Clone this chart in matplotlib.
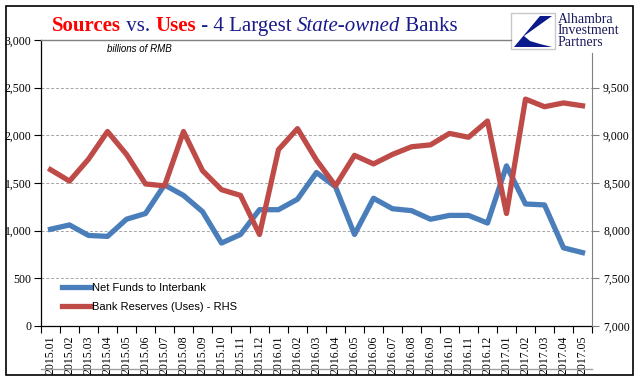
import numpy as np
import matplotlib.pyplot as plt
from matplotlib.patches import Rectangle, Polygon
from matplotlib.lines import Line2D
from matplotlib.ticker import FuncFormatter

months = ["2015.01", "2015.02", "2015.03", "2015.04", "2015.05", "2015.06", "2015.07",
          "2015.08", "2015.09", "2015.10", "2015.11", "2015.12", "2016.01", "2016.02",
          "2016.03", "2016.04", "2016.05", "2016.06", "2016.07", "2016.08", "2016.09",
          "2016.10", "2016.11", "2016.12", "2017.01", "2017.02", "2017.03", "2017.04",
          "2017.05"]
net_funds = [1015, 1060, 950, 940, 1120, 1180, 1480, 1370, 1200, 870, 960, 1220, 1220,
             1330, 1610, 1460, 960, 1340, 1230, 1210, 1120, 1160, 1160, 1080, 1680,
             1280, 1270, 820, 770]
reserves = [8640, 8520, 8750, 9040, 8800, 8490, 8470, 9040, 8630, 8430, 8370, 7960, 8850,
            9070, 8740, 8470, 8790, 8700, 8800, 8880, 8900, 9020, 8980, 9150, 8180,
            9380, 9300, 9340, 9310]

W, H = 641, 381
fig = plt.figure(figsize=(W / 100, H / 100), dpi=100)
fig.patch.set_facecolor("white")

def fx(px):
    return px / W

def fy(py):
    return 1 - py / H

serif = "Liberation Serif"
blue = "#4A7EBB"
red = "#BE4B48"
navy = "#1A1A8C"

ax = fig.add_axes([fx(41), fy(326), fx(592) - fx(41), fy(40) - fy(326)])
ax2 = ax.twinx()

x = np.arange(len(months))
ax.plot(x, net_funds, color=blue, lw=3.8, solid_joinstyle="round")
ax2.plot(x, reserves, color=red, lw=3.8, solid_joinstyle="round")

ax.set_xlim(-0.5, len(months) - 0.5)
ax.set_ylim(0, 3000)
ax2.set_ylim(7000, 10000)
ax.set_yticks(np.arange(0, 3001, 500))
ax2.set_yticks(np.arange(7000, 9501, 500))
fmt = FuncFormatter(lambda v, p: f"{int(v):,}")
ax.yaxis.set_major_formatter(fmt)
ax2.yaxis.set_major_formatter(fmt)

for v in range(500, 3000, 500):
    ax.axhline(v, color="#A6A6A6", lw=0.7, ls=(0, (3, 2)), zorder=0)

ax.set_xticks(x)
ax.set_xticklabels(months, rotation=90, fontfamily=serif, fontsize=8.5)
ax.set_xticks(np.arange(-0.5, len(months), 1), minor=True)
ax.tick_params(axis="x", which="major", length=0, pad=7)
ax.tick_params(axis="x", which="minor", length=5, direction="out", width=0.8)
ax.tick_params(axis="y", length=5, width=0.8, direction="out", labelsize=8.5, pad=2)
ax2.tick_params(axis="y", length=5, width=0.8, direction="out", labelsize=8.5, pad=3,
                color="#808080")
for lab in ax.get_yticklabels() + ax2.get_yticklabels():
    lab.set_fontfamily(serif)

ax.spines["top"].set_visible(False)
ax2.spines["top"].set_visible(False)
ax2.spines["left"].set_visible(False)
ax2.spines["bottom"].set_visible(False)
ax2.spines["right"].set_color("#808080")
ax2.spines["right"].set_bounds(7000, 9860)
ax.spines["right"].set_visible(False)
ax.spines["left"].set_linewidth(0.9)
ax.spines["bottom"].set_linewidth(0.9)

handles = [Line2D([], [], color=blue, lw=3.8), Line2D([], [], color=red, lw=3.8)]
ax.legend(handles, ["Net Funds to Interbank", "Bank Reserves (Uses) - RHS"],
          loc="lower left", bbox_to_anchor=(0.02, 0.015), frameon=False,
          prop={"family": "Liberation Sans", "size": 8}, handlelength=2.6,
          handletextpad=0.1, labelspacing=0.75)

ax.text(0.12, 0.985, "billions of RMB", transform=ax.transAxes, fontsize=7,
        style="italic", fontfamily="Liberation Sans", va="top", ha="left")

# frame, top rule and bottom rule
fig.add_artist(Rectangle((fx(6), fy(375)), fx(633) - fx(6), fy(6) - fy(375),
                         transform=fig.transFigure, fill=False, lw=1.2, ec="black"))
fig.add_artist(Line2D([fx(41), fx(511)], [fy(40), fy(40)], transform=fig.transFigure,
                      color="#808080", lw=1))
fig.add_artist(Line2D([fx(41), fx(592)], [fy(369), fy(369)], transform=fig.transFigure,
                      color="#A0A0A0", lw=1))

# title in pieces
pieces = [("Sources", "#FF0000", "bold", "normal"), (" vs. ", navy, "normal", "normal"),
          ("Uses", "#FF0000", "bold", "normal"), (" - 4 Largest ", navy, "normal", "normal"),
          ("State-owned", navy, "normal", "italic"), (" Banks", navy, "normal", "normal")]
renderer = fig.canvas.get_renderer()
cx = 52
for txt, col, wt, st in pieces:
    t = fig.text(fx(cx), fy(31), txt, color=col, fontweight=wt, style=st,
                 fontfamily=serif, fontsize=15, ha="left", va="baseline")
    bb = t.get_window_extent(renderer)
    cx += bb.width

# logo
fig.add_artist(Rectangle((fx(511), fy(49)), fx(555) - fx(511), fy(13) - fy(49),
                         transform=fig.transFigure, fill=True, fc="white", ec="#C8C8C8", lw=1))
logo = Polygon([(fx(540), fy(16)), (fx(552), fy(16)), (fx(524), fy(36)), (fx(530), fy(41)),
                (fx(540), fy(44)), (fx(552), fy(47)), (fx(514), fy(47))],
               closed=True, transform=fig.transFigure, fc="#0A1A8C", ec="none")
fig.add_artist(logo)
fig.text(fx(558), fy(13), "Alhambra\nInvestment\nPartners", fontfamily=serif,
         fontsize=10, color="#1A1A5C", ha="left", va="top", linespacing=0.85)

plt.savefig("out.png", dpi=100)
